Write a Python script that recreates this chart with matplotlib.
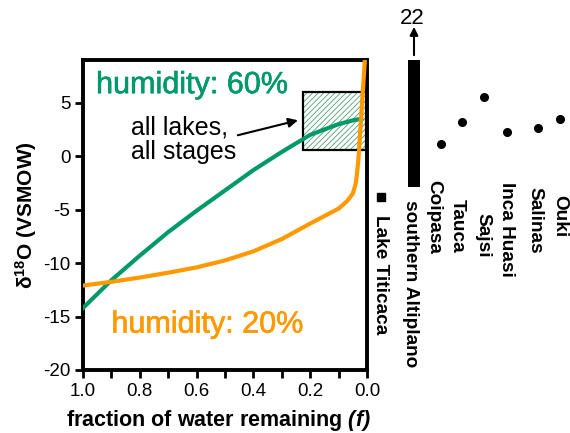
import matplotlib
matplotlib.use('Agg')
import matplotlib.pyplot as plt
import matplotlib.patheffects as pe
from matplotlib.patches import Rectangle

plt.rcParams['font.family'] = ['Liberation Sans', 'DejaVu Sans']
plt.rcParams['axes.unicode_minus'] = False
plt.rcParams['mathtext.fontset'] = 'custom'
plt.rcParams['mathtext.rm'] = 'Liberation Sans:italic:bold'
plt.rcParams['mathtext.bf'] = 'Liberation Sans:bold'
plt.rcParams['mathtext.it'] = 'Liberation Sans:italic:bold'
plt.rcParams['hatch.linewidth'] = 0.6

GREEN = '#00996A'
ORANGE = '#FF9900'
HATCH = '#4E9E74'

# ---- data ----
f_60 = [1.0, 0.9, 0.8, 0.7, 0.6, 0.5, 0.4, 0.3, 0.2, 0.1, 0.05, 0.02]
d18o_60 = [-14.2, -11.6, -9.3, -7.1, -5.1, -3.2, -1.3, 0.4, 2.0, 3.0, 3.35, 3.5]

f_20 = [1.0, 0.9, 0.8, 0.7, 0.6, 0.5, 0.4, 0.3, 0.2, 0.15, 0.1, 0.07,
        0.05, 0.04, 0.035, 0.03, 0.025, 0.02, 0.015, 0.01, 0.007]
d18o_20 = [-12.1, -11.75, -11.35, -10.9, -10.4, -9.75, -8.9, -7.75, -6.3,
           -5.6, -4.9, -4.2, -3.5, -2.6, -1.6, -0.2, 1.8, 3.9, 6.0, 8.0, 9.2]

box_f = [0.005, 0.225]
box_d18o = [0.6, 6.0]

x_ticks = [1.0, 0.8, 0.6, 0.4, 0.2, 0.0]
x_tick_labels = ['1.0', '0.8', '0.6', '0.4', '0.2', '0.0']
y_ticks = [5, 0, -5, -10, -15, -20]

titicaca_d18o = -3.8
altiplano_range = [-2.9, 22]
lakes = ['Coipasa', 'Tauca', 'Sajsi', 'Inca Huasi', 'Salinas', 'Ouki']
lake_d18o = [1.1, 3.2, 5.5, 2.3, 2.6, 3.5]

# ---- layout (right panel positions in panel units) ----
titicaca_x, titicaca_lx, titicaca_ly = 11, 10, -5.5
altiplano_x, altiplano_lx, altiplano_ly = 44, 40, -4.1
lake_x = [71, 92, 114, 137, 168, 190]
lake_lx = [64, 87, 113, 137, 165, 190]
lake_ly = [-2.2, -4.0, -5.3, -2.4, -2.9, -3.6]

fig = plt.figure(figsize=(5.7, 4.33), dpi=100)
ax = fig.add_axes([83/570, 63/433, 284/570, 310/433])

ax.add_patch(Rectangle((box_f[0], box_d18o[0]), box_f[1]-box_f[0],
                       box_d18o[1]-box_d18o[0], facecolor='white',
                       edgecolor=HATCH, hatch='//////', lw=0, zorder=1))
ax.add_patch(Rectangle((box_f[0], box_d18o[0]), box_f[1]-box_f[0],
                       box_d18o[1]-box_d18o[0], fill=False,
                       edgecolor='black', lw=1.6, zorder=2))

ax.plot(f_60, d18o_60, color=GREEN, lw=3, zorder=3, solid_joinstyle='round')
ax.plot(f_20, d18o_20, color=ORANGE, lw=3, zorder=4, solid_joinstyle='round')

ax.set_xlim(1.0, 0.0)
ax.set_ylim(-20, 9)
ax.set_xticks(x_ticks)
ax.set_xticklabels(x_tick_labels)
ax.set_xticks([0.9, 0.7, 0.5, 0.3, 0.1], minor=True)
ax.set_yticks(y_ticks)
ax.tick_params(which='both', direction='out', length=6, width=2, labelsize=13.5, pad=3)
for s in ax.spines.values():
    s.set_linewidth(2.8)

ax.set_xlabel('fraction of water remaining $(f)$', fontsize=15.5,
              fontweight='bold', labelpad=6)
ax.xaxis.label.set_x(0.476)
ax.set_ylabel('δ$^{\\mathbf{18}}$O (VSMOW)', fontsize=15, fontweight='bold', labelpad=3)

t1 = ax.text(0.954, 5.9, 'humidity: 60%', color=GREEN, fontsize=22, ha='left', va='baseline')
t1.set_path_effects([pe.Stroke(linewidth=0.45, foreground=GREEN), pe.Normal()])
t2 = ax.text(0.90, -16.5, 'humidity: 20%', color=ORANGE, fontsize=22, ha='left', va='baseline')
t2.set_path_effects([pe.Stroke(linewidth=0.45, foreground=ORANGE), pe.Normal()])
ax.text(0.83, -0.28, 'all lakes,\nall stages', fontsize=18, ha='left', va='baseline', linespacing=1.05)
ax.annotate('', xy=(0.243, 3.36), xytext=(0.455, 1.96),
            arrowprops=dict(arrowstyle='-|>', lw=1.5, color='black',
                            mutation_scale=14, shrinkA=0, shrinkB=0))

# ---- right panel ----
ax2 = fig.add_axes([370/570, 63/433, 200/570, 310/433])
ax2.set_xlim(0, 200)
ax2.set_ylim(-20, 9)
ax2.axis('off')

ax2.bar(altiplano_x, altiplano_range[1]-altiplano_range[0], bottom=altiplano_range[0],
        width=12, color='black')
ax2.annotate('', xy=(altiplano_x, 12.1), xytext=(altiplano_x, 9.45),
             arrowprops=dict(arrowstyle='-|>', lw=1.5, color='black',
                             mutation_scale=12, shrinkA=0, shrinkB=0),
             annotation_clip=False)
ax2.text(altiplano_x - 2, 12.35, str(altiplano_range[1]), fontsize=16, ha='center',
         va='baseline', clip_on=False)

ax2.plot([titicaca_x], [titicaca_d18o], 's', color='black', ms=5.5, clip_on=False)
ax2.plot(lake_x, lake_d18o, 'o', color='black', ms=5.5, clip_on=False)

ax2.text(titicaca_lx, titicaca_ly, 'Lake Titicaca', rotation=270, rotation_mode='anchor',
         ha='left', va='center', fontsize=13.7, fontweight='bold')
ax2.text(altiplano_lx, altiplano_ly, 'southern Altiplano', rotation=270, rotation_mode='anchor',
         ha='left', va='center', fontsize=13.7, fontweight='bold')
for name, lx, ly in zip(lakes, lake_lx, lake_ly):
    ax2.text(lx, ly, name, rotation=270, rotation_mode='anchor',
             ha='left', va='center', fontsize=13.7, fontweight='bold')

fig.savefig('out.png', dpi=100)
